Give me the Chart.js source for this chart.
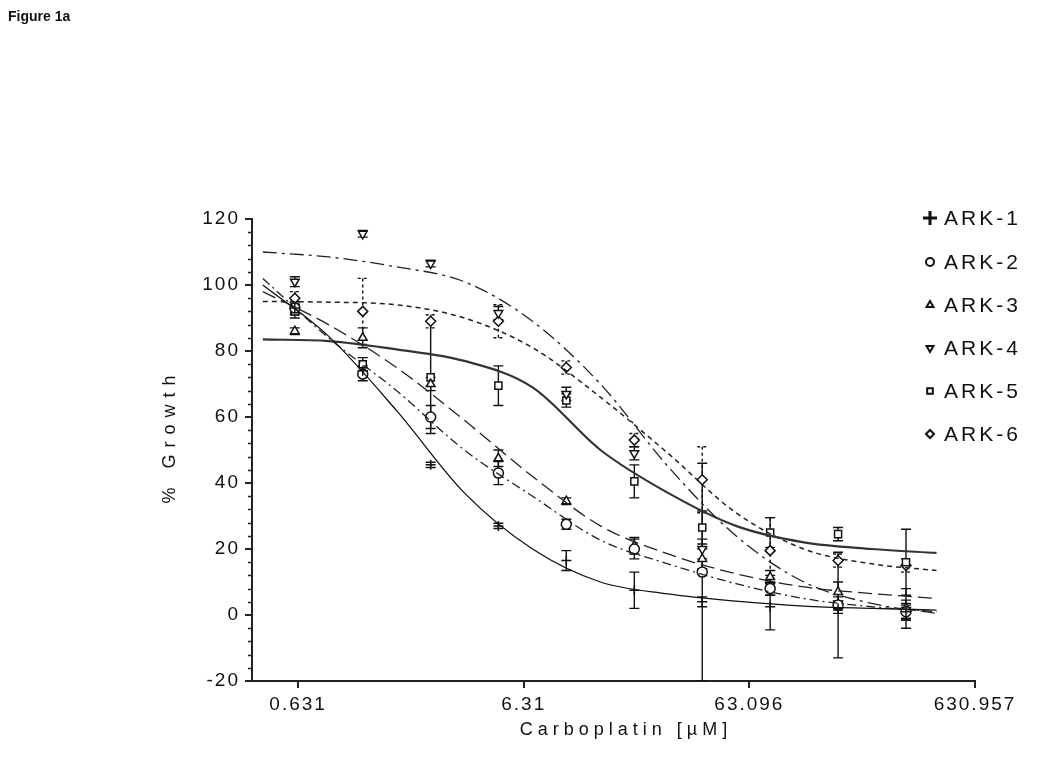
<!DOCTYPE html>
<html>
<head>
<meta charset="utf-8">
<script src="https://cdn.jsdelivr.net/npm/chart.js@4.4.0/dist/chart.umd.min.js"></script>
<style>
html, body { margin: 0; padding: 0; background: #fff; }
#wrap { position: relative; width: 1050px; height: 769px; }
#figTitle { position: absolute; left: 8px; top: 8px; font: bold 14px "Liberation Sans", Arial, sans-serif; color: #111; }
</style>
</head>
<body>
<div id="wrap">
  <div id="figTitle">Figure 1a</div>
  <canvas id="myChart" width="1050" height="769"></canvas>
</div>
<script>
var doses = [0.61, 1.22, 2.44, 4.87, 9.74, 19.5, 39, 78, 156, 312];

var ark1Values = [93, 74, 45.5, 27, 16.5, 7.5, 4, 2.5, 2, 1];
var ark1Errors = [1.5, 1.5, 0.8, 0.8, 3, 5.5, 1.5, 7, 1.5, 2.5];
var ark2Values = [93, 73, 60, 43, 27.5, 20, 13, 8, 3, 1];
var ark2Errors = [2, 2, 3.5, 3.5, 1.5, 3, 33, 2, 16, 2];
var ark3Values = [86, 84, 70, 47.5, 34.5, 21, 17, 11.5, 7, 2];
var ark3Errors = [1, 3, 2, 2.5, 1, 2.5, 3, 2, 3, 6];
var ark4Values = [101, 115.5, 106.5, 91.5, 67, 49, 20, 9, 3.5, 1.5];
var ark4Errors = [1.5, 1, 1, 2, 2, 2, 3, 3, 2, 3];
var ark5Values = [92, 76, 72, 69.5, 65, 40.5, 26.5, 25, 24.5, 16];
var ark5Errors = [2, 2, 17, 6, 2, 5, 5, 4.5, 2, 10];
var ark6Values = [96, 92, 89, 89, 75, 53, 41, 19.5, 16.5, 15];
var ark6Errors = [2, 10, 2, 5, 2, 2, 10, 10, 2, 2];

// fitted curves at these doses
var curveDoses = [0.44, 0.86, 1.72, 3.44, 6.9, 13.8, 27.5, 55, 110, 220, 426];
var ark1Curve = [100, 84.5, 62, 37, 20, 10, 6.4, 4.2, 2.7, 2, 1.5];
var ark2Curve = [102, 84, 68, 50, 36, 22.7, 15.5, 9.5, 5, 2.5, 1];
var ark3Curve = [98, 88, 75, 59, 42, 27, 18.5, 12.5, 8.5, 6.5, 5];
var ark4Curve = [110, 108.5, 105.5, 101, 89, 70, 45, 24, 10, 3.5, 0.5];
var ark5Curve = [83.5, 83, 80.5, 77, 69, 50, 37, 27, 22, 20, 18.8];
var ark6Curve = [95, 94.8, 94, 90, 81, 66, 49, 31, 20, 15.5, 13.5];

var seriesNames = ['ARK-1', 'ARK-2', 'ARK-3', 'ARK-4', 'ARK-5', 'ARK-6'];
var xTickValues = [0.631, 6.31, 63.096, 630.957];
var xTickLabels = ['0.631', '6.31', '63.096', '630.957'];

var allValues = [ark1Values, ark2Values, ark3Values, ark4Values, ark5Values, ark6Values];
var allErrors = [ark1Errors, ark2Errors, ark3Errors, ark4Errors, ark5Errors, ark6Errors];
var allCurves = [ark1Curve, ark2Curve, ark3Curve, ark4Curve, ark5Curve, ark6Curve];

var styles = [
  { point: 'cross', rot: 0, line: '#111', width: 1.3, dash: [], errDash: [] },
  { point: 'circle', rot: 0, line: '#222', width: 1.3, dash: [9, 4, 2, 4], errDash: [] },
  { point: 'triangle', rot: 0, line: '#222', width: 1.3, dash: [14, 6], errDash: [] },
  { point: 'triangle', rot: 180, line: '#222', width: 1.3, dash: [14, 5, 3, 5], errDash: [] },
  { point: 'rect', rot: 0, line: '#333', width: 2.2, dash: [], errDash: [] },
  { point: 'rectRot', rot: 0, line: '#222', width: 1.5, dash: [5, 4], errDash: [3, 3] }
];

var FONT = '"Liberation Sans", Arial, sans-serif';

var datasets = [];
for (var i = 0; i < seriesNames.length; i++) {
  datasets.push({
    label: seriesNames[i] + ' fit',
    data: curveDoses.map(function (d, j) { return { x: d, y: allCurves[i][j] }; }),
    showLine: true,
    pointRadius: 0,
    borderColor: styles[i].line,
    borderWidth: styles[i].width,
    borderDash: styles[i].dash,
    cubicInterpolationMode: 'monotone',
    fill: false
  });
}
for (var i = 0; i < seriesNames.length; i++) {
  datasets.push({
    label: seriesNames[i],
    data: doses.map(function (d, j) { return { x: d, y: allValues[i][j] }; }),
    errors: allErrors[i],
    errDash: styles[i].errDash,
    showLine: false,
    pointStyle: styles[i].point,
    rotation: styles[i].rot,
    pointRadius: 5,
    borderColor: '#111',
    backgroundColor: '#fff',
    pointBorderWidth: 1.5
  });
}

var errorBars = {
  id: 'errorBars',
  beforeDatasetsDraw: function (chart) {
    var ctx = chart.ctx, area = chart.chartArea;
    var x = chart.scales.x, y = chart.scales.y;
    ctx.save();
    ctx.beginPath();
    ctx.rect(area.left, area.top, area.right - area.left, area.bottom - area.top);
    ctx.clip();
    chart.data.datasets.forEach(function (ds) {
      if (!ds.errors) return;
      ctx.strokeStyle = '#111';
      ctx.lineWidth = 1.4;
      ctx.setLineDash(ds.errDash);
      ds.data.forEach(function (p, k) {
        var e = ds.errors[k];
        var px = x.getPixelForValue(p.x);
        var top = y.getPixelForValue(p.y + e);
        var bot = y.getPixelForValue(p.y - e);
        ctx.beginPath();
        ctx.moveTo(px, top); ctx.lineTo(px, bot);
        ctx.moveTo(px - 5, top); ctx.lineTo(px + 5, top);
        ctx.moveTo(px - 5, bot); ctx.lineTo(px + 5, bot);
        ctx.stroke();
      });
    });
    ctx.restore();
  }
};

var decorations = {
  id: 'decorations',
  beforeDraw: function (chart) {
    chart.ctx.letterSpacing = '2px';
  },
  afterDraw: function (chart) {
    var ctx = chart.ctx, area = chart.chartArea, y = chart.scales.y;
    ctx.save();
    // minor ticks on y axis
    ctx.strokeStyle = '#222';
    ctx.lineWidth = 1.5;
    for (var v = -16; v < 120; v += 4) {
      if (v % 20 === 0) continue;
      var py = Math.round(y.getPixelForValue(v)) + 0.5;
      ctx.beginPath();
      ctx.moveTo(area.left - 4, py);
      ctx.lineTo(area.left, py);
      ctx.stroke();
    }
    // axis titles
    ctx.fillStyle = '#111';
    ctx.textBaseline = 'middle';
    ctx.textAlign = 'center';
    ctx.font = '18px ' + FONT;
    ctx.letterSpacing = '5px';
    ctx.fillText('Carboplatin [\u00b5M]', 626, 730);
    ctx.save();
    ctx.translate(170, 439);
    ctx.rotate(-Math.PI / 2);
    ctx.letterSpacing = '7px';
    ctx.fillText('% Growth', 3, 0);
    ctx.restore();
    // legend
    var legendY = [218, 262, 305, 348, 391, 434];
    ctx.letterSpacing = '3px';
    ctx.textAlign = 'left';
    ctx.font = '21px ' + FONT;
    for (var i = 0; i < seriesNames.length; i++) {
      var s = styles[i];
      ctx.strokeStyle = '#111';
      ctx.fillStyle = '#fff';
      ctx.setLineDash([]);
      if (i === 0) {
        ctx.lineWidth = 3;
        Chart.helpers.drawPoint(ctx, { pointStyle: 'cross', radius: 7, borderWidth: 3, rotation: 0 }, 930, legendY[i]);
      } else {
        ctx.lineWidth = 2;
        Chart.helpers.drawPoint(ctx, { pointStyle: s.point, radius: 4, borderWidth: 2, rotation: s.rot }, 930, legendY[i]);
      }
      ctx.fillStyle = '#111';
      ctx.fillText(seriesNames[i], 944, legendY[i] + 1);
    }
    ctx.restore();
  }
};

var ctx = document.getElementById('myChart').getContext('2d');
var myChart = new Chart(ctx, {
  type: 'scatter',
  data: { datasets: datasets },
  options: {
    responsive: false,
    animation: false,
    layout: { padding: { top: 219, right: 75, left: 0, bottom: 0 } },
    plugins: { legend: { display: false }, tooltip: { enabled: false } },
    scales: {
      x: {
        type: 'logarithmic',
        min: 0.394,
        max: 630.957,
        afterBuildTicks: function (s) { s.ticks = xTickValues.map(function (v) { return { value: v }; }); },
        afterFit: function (s) { s.height = 88; },
        ticks: {
          autoSkip: false, maxRotation: 0, padding: 5, color: '#111',
          font: { size: 19, family: FONT },
          callback: function (v, i) { return xTickLabels[i]; }
        },
        grid: { display: true, drawOnChartArea: false, drawTicks: true, tickLength: 7, color: '#222', lineWidth: 2 },
        border: { display: true, color: '#222', width: 2 }
      },
      y: {
        min: -20,
        max: 120,
        afterFit: function (s) { s.width = 252; },
        ticks: { stepSize: 20, padding: 5, color: '#111', font: { size: 19, family: FONT } },
        grid: { display: true, drawOnChartArea: false, drawTicks: true, tickLength: 7, color: '#222', lineWidth: 2 },
        border: { display: true, color: '#222', width: 2 }
      }
    }
  },
  plugins: [errorBars, decorations]
});
</script>
</body>
</html>
